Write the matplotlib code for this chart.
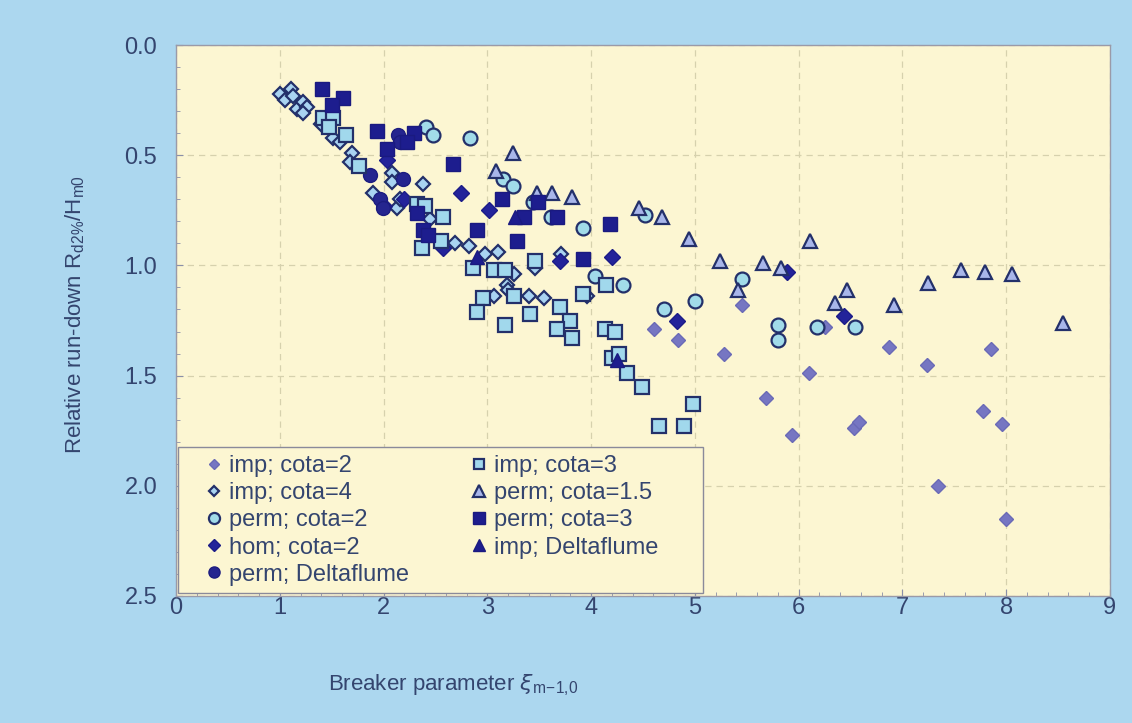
import numpy as np
import matplotlib
matplotlib.use('Agg')
import matplotlib.pyplot as plt
from matplotlib.patches import Rectangle
from matplotlib.ticker import MultipleLocator

plt.rcParams['font.family'] = ['Liberation Sans', 'DejaVu Sans']

# imp; cota=2  (filled medium diamonds)
imp2_x = [4.61, 4.84, 5.45, 5.28, 5.69, 5.94, 6.10, 6.53, 6.58, 6.87, 7.24, 7.34, 7.78, 7.85, 7.96, 8.00, 6.25]
imp2_y = [1.29, 1.34, 1.18, 1.40, 1.60, 1.77, 1.49, 1.74, 1.71, 1.37, 1.45, 2.00, 1.66, 1.38, 1.72, 2.15, 1.28]

# imp; cota=4  (open diamonds)
imp4_x = [1.00, 1.11, 1.05, 1.13, 1.17, 1.22, 1.26, 1.22, 1.40, 1.51, 1.58, 1.70, 1.68, 1.90, 2.08, 2.08,
          2.38, 2.13, 2.16, 2.45, 2.69, 2.82, 2.98, 3.10, 3.26, 3.46, 3.71, 3.19, 3.20, 3.06, 3.40, 3.55, 3.96]
imp4_y = [0.22, 0.20, 0.25, 0.23, 0.29, 0.26, 0.28, 0.31, 0.36, 0.42, 0.44, 0.49, 0.53, 0.67, 0.58, 0.62,
          0.63, 0.74, 0.70, 0.79, 0.90, 0.91, 0.95, 0.94, 1.04, 1.01, 0.95, 1.09, 1.11, 1.14, 1.14, 1.15, 1.14]

# perm; cota=2  (light circles)
perm2_x = [2.41, 2.48, 2.83, 3.15, 3.25, 3.44, 3.61, 3.92, 4.52, 4.04, 4.31, 4.70, 5.00, 5.45, 5.80, 5.80, 6.18, 6.54]
perm2_y = [0.37, 0.41, 0.42, 0.61, 0.64, 0.71, 0.78, 0.83, 0.77, 1.05, 1.09, 1.20, 1.16, 1.06, 1.27, 1.34, 1.28, 1.28]

# hom; cota=2  (dark diamonds)
hom2_x = [2.03, 2.75, 3.02, 2.57, 3.70, 4.20, 4.83, 5.89, 6.44, 2.00, 2.20]
hom2_y = [0.52, 0.67, 0.75, 0.92, 0.98, 0.96, 1.25, 1.03, 1.23, 0.73, 0.70]

# perm; Deltaflume  (dark circles)
permd_x = [2.14, 2.16, 1.87, 2.19, 1.97, 1.99]
permd_y = [0.41, 0.44, 0.59, 0.61, 0.70, 0.74]

# imp; cota=3  (light squares)
imp3_x = [1.42, 1.51, 1.47, 1.64, 1.76, 2.32, 2.40, 2.57, 2.55, 2.37, 2.86, 3.06, 3.17, 3.46, 2.96, 2.90,
          3.26, 3.92, 4.14, 3.70, 3.80, 3.41, 3.17, 3.67, 3.82, 4.13, 4.23, 4.20, 4.27, 4.35, 4.49, 4.98,
          4.65, 4.90]
imp3_y = [0.33, 0.33, 0.37, 0.41, 0.55, 0.72, 0.73, 0.78, 0.89, 0.92, 1.01, 1.02, 1.02, 0.98, 1.15, 1.21,
          1.14, 1.13, 1.09, 1.19, 1.25, 1.22, 1.27, 1.29, 1.33, 1.29, 1.30, 1.42, 1.40, 1.49, 1.55, 1.63,
          1.73, 1.73]

# perm; cota=1.5  (open triangles)
perm15_x = [3.08, 3.25, 3.48, 3.62, 3.82, 4.46, 4.68, 4.94, 5.24, 5.42, 5.66, 5.83, 6.11, 6.35, 6.47,
            6.92, 7.25, 7.56, 7.80, 8.06, 8.55]
perm15_y = [0.57, 0.49, 0.67, 0.67, 0.69, 0.74, 0.78, 0.88, 0.98, 1.11, 0.99, 1.01, 0.89, 1.17, 1.11,
            1.18, 1.08, 1.02, 1.03, 1.04, 1.26]

# perm; cota=3  (dark squares)
perm3_x = [1.41, 1.61, 1.50, 1.94, 2.03, 2.29, 2.23, 2.67, 2.32, 2.38, 2.43, 2.90, 3.14, 3.35, 3.49,
           3.67, 3.29, 3.92, 4.18]
perm3_y = [0.20, 0.24, 0.27, 0.39, 0.47, 0.40, 0.44, 0.54, 0.76, 0.84, 0.86, 0.84, 0.70, 0.78, 0.71,
           0.78, 0.89, 0.97, 0.81]

# imp; Deltaflume  (dark triangles)
impd_x = [3.27, 2.90, 4.25]
impd_y = [0.78, 0.96, 1.43]

BG = '#acd7ef'
PLOT_BG = '#fcf6d2'
TXT = '#34456f'

fig = plt.figure(figsize=(11.32, 7.23), dpi=100, facecolor=BG)
ax = fig.add_axes([0.1555, 0.1757, 0.825, 0.762])
ax.set_facecolor(PLOT_BG)

dark_edge = '#23306a'
h = {}
h['imp2'] = ax.plot(imp2_x, imp2_y, 'D', ms=7, mfc='#7676c2', mec='#6a6ab6', mew=1, label='imp; cota=2')[0]
h['imp4'] = ax.plot(imp4_x, imp4_y, 'D', ms=7, mfc='#a9d3f1', mec=dark_edge, mew=1.6, label='imp; cota=4')[0]
h['perm2'] = ax.plot(perm2_x, perm2_y, 'o', ms=10, mfc='#a1dbe9', mec=dark_edge, mew=1.6, label='perm; cota=2')[0]
h['hom2'] = ax.plot(hom2_x, hom2_y, 'D', ms=8, mfc='#23239a', mec='#1c1c88', mew=1, label='hom; cota=2')[0]
h['permd'] = ax.plot(permd_x, permd_y, 'o', ms=10, mfc='#25258f', mec='#1c1c80', mew=1, label='perm; Deltaflume')[0]
h['perm15'] = ax.plot(perm15_x, perm15_y, '^', ms=10.5, mfc='#a8b6ea', mec=dark_edge, mew=1.6, label='perm; cota=1.5')[0]
h['imp3'] = ax.plot(imp3_x, imp3_y, 's', ms=9.5, mfc='#a1d8ec', mec=dark_edge, mew=1.6, label='imp; cota=3')[0]
h['perm3'] = ax.plot(perm3_x, perm3_y, 's', ms=10.5, mfc='#1d1d8e', mec='#1a1a80', mew=1, label='perm; cota=3')[0]
h['impd'] = ax.plot(impd_x, impd_y, '^', ms=10.5, mfc='#1d1d8e', mec='#1a1a80', mew=1, label='imp; Deltaflume')[0]

ax.set_xlim(0, 9)
ax.set_ylim(2.5, 0.0)
ax.xaxis.set_major_locator(MultipleLocator(1))
ax.xaxis.set_minor_locator(MultipleLocator(0.2))
ax.yaxis.set_major_locator(MultipleLocator(0.5))
ax.yaxis.set_minor_locator(MultipleLocator(0.1))
ax.yaxis.set_major_formatter(matplotlib.ticker.FormatStrFormatter('%.1f'))
ax.tick_params(which='both', direction='in', colors='#8a8fa8', labelcolor=TXT, labelsize=17)
ax.tick_params(which='major', length=5)
ax.tick_params(axis='y', which='major', pad=13.5)
ax.tick_params(axis='x', which='major', pad=1)
ax.tick_params(which='minor', length=3)
ax.grid(True, which='major', color='#d6d1ad', linestyle=(0, (5, 4)), linewidth=0.9)
ax.set_axisbelow(True)
for s in ax.spines.values():
    s.set_color('#9a9aa8')
    s.set_linewidth(1.0)

# legend box drawn separately so it can be wider than its content
ax.add_patch(Rectangle((0.002, 0.005), 0.562, 0.265, transform=ax.transAxes,
                       facecolor=PLOT_BG, edgecolor='#8a8a9a', linewidth=1.0, zorder=4))

order = ['imp2', 'imp4', 'perm2', 'hom2', 'permd', 'imp3', 'perm15', 'perm3', 'impd']
leg = ax.legend([h[k] for k in order], [h[k].get_label() for k in order], ncol=2,
                loc='upper left', bbox_to_anchor=(0.0306, 0.256), frameon=False,
                fontsize=17, markerscale=0.8, handlelength=0.8, handletextpad=0.24,
                columnspacing=2.57, labelspacing=0.22, borderpad=0.0, borderaxespad=0.0,
                labelcolor=TXT)
leg.set_zorder(5)

fig.text(0.066, 0.565, r'Relative run-down R$_{\mathregular{d2\%}}$/H$_{\mathregular{m0}}$', rotation=90,
         ha='center', va='center', fontsize=16, color=TXT)
fig.text(0.40, 0.052, r'Breaker parameter $\xi_{\mathregular{m\!-\!1{,}0}}$', ha='center', va='center',
         fontsize=16, color=TXT)

fig.savefig('out.png', dpi=100, facecolor=BG)
